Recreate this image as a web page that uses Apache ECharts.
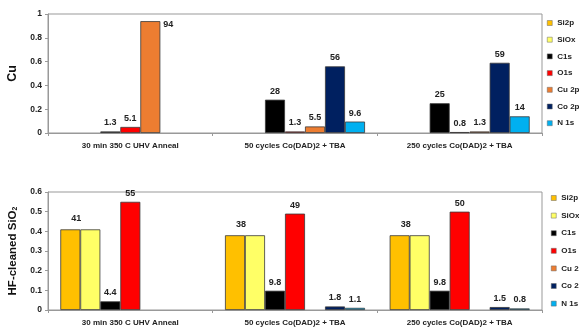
<!DOCTYPE html>
<html>
<head>
<meta charset="utf-8">
<script src="https://cdn.jsdelivr.net/npm/echarts@6/dist/echarts.min.js"></script>
<style>html,body{margin:0;padding:0;background:#fff;}#c{width:579px;height:330px;}</style>
</head>
<body>
<div id="c"></div>
<script>
// ---- data (percent values; bar heights are fractions = percent / 100) ----
const categories = ['30 min 350 C UHV Anneal', '50 cycles Co(DAD)2 + TBA', '250 cycles Co(DAD)2 + TBA'];
const seriesNames = ['Si2p', 'SiOx', 'C1s', 'O1s', 'Cu 2p', 'Co 2p', 'N 1s'];

// Top panel: Cu substrate
const cuSi2p = [null, null, null];
const cuSiOx = [null, null, null];
const cuC1s  = [1.3, 28, 25];
const cuO1s  = [5.1, 1.3, 0.8];
const cuCu2p = [94, 5.5, 1.3];
const cuCo2p = [null, 56, 59];
const cuN1s  = [null, 9.6, 14];

// Bottom panel: HF-cleaned SiO2
const siSi2p = [41, 38, 38];
const siSiOx = [41, 38, 38];
const siC1s  = [4.4, 9.8, 9.8];
const siO1s  = [55, 49, 50];
const siCu2p = [null, null, null];
const siCo2p = [null, 1.8, 1.5];
const siN1s  = [null, 1.1, 0.8];

const topYTicks = [0, 0.2, 0.4, 0.6, 0.8, 1];
const botYTicks = [0, 0.1, 0.2, 0.3, 0.4, 0.5, 0.6];

// ---- styles ----
const colors = ['#FFC000', '#FFFF66', '#000000', '#FF0000', '#ED7D31', '#002060', '#00B0F0'];
const FONT = '"Liberation Sans", Arial, sans-serif';
const topData = [cuSi2p, cuSiOx, cuC1s, cuO1s, cuCu2p, cuCo2p, cuN1s];
const botData = [siSi2p, siSiOx, siC1s, siO1s, siCu2p, siCo2p, siN1s];

function fmt(v) { return String(+(v * 100).toFixed(1)); }

function makeSeries(arrs, gridIdx) {
  return arrs.map((arr, si) => {
    const data = arr.map((p, ci) => {
      if (p === null) return '-';
      const item = { value: p / 100 };
      if (gridIdx === 0 && si === 4 && ci === 0) {
        item.label = { position: ['100%', 0], align: 'left', verticalAlign: 'middle', offset: [3, 3] };
      }
      if (gridIdx === 1 && si === 0) {
        item.label = { offset: [6, -2] };
      }
      if (gridIdx === 1 && si === 1) {
        item.label = { show: false };
      }
      return item;
    });
    return {
      name: seriesNames[si],
      type: 'bar',
      xAxisIndex: gridIdx,
      yAxisIndex: gridIdx,
      barWidth: 20,
      barGap: '0%',
      data: data,
      itemStyle: { color: colors[si], borderColor: '#3a3a3a', borderWidth: 0.8 },
      label: {
        show: true, position: 'top', distance: 4,
        fontFamily: FONT, fontWeight: 'bold', fontSize: 9, color: '#222',
        formatter: p => fmt(p.value)
      },
      emphasis: { disabled: true },
      animation: false
    };
  });
}

function yAxis(gridIdx, ticks, name, nameGap, rich) {
  return {
    type: 'value', gridIndex: gridIdx,
    min: ticks[0], max: ticks[ticks.length - 1], interval: ticks[1] - ticks[0],
    name: name, nameLocation: 'middle', nameGap: nameGap, nameRotate: 90,
    nameTextStyle: Object.assign({ fontFamily: FONT, fontWeight: 'bold', fontSize: 12.5, color: '#111' }, rich ? { rich: rich } : {}),
    axisLine: { show: true, lineStyle: { color: '#999', width: 1 } },
    axisTick: { show: true, length: 3, lineStyle: { color: '#999' } },
    splitLine: { show: false },
    axisLabel: { fontFamily: FONT, fontWeight: 'bold', fontSize: 8.5, color: '#222', margin: 6 }
  };
}

function xAxis(gridIdx) {
  return {
    type: 'category', gridIndex: gridIdx, data: categories,
    axisLine: { show: true, lineStyle: { color: '#999', width: 1 } },
    axisTick: { show: true, length: 3, alignWithLabel: false, lineStyle: { color: '#999' } },
    axisLabel: { fontFamily: FONT, fontWeight: 'bold', fontSize: 8, color: '#222', margin: 9, interval: 0 }
  };
}

const legendText = { fontFamily: FONT, fontWeight: 'bold', fontSize: 8, color: '#222', lineHeight: 10 };
const legendItem = { borderColor: '#666', borderWidth: 0.5 };

const option = {
  backgroundColor: '#fff',
  animation: false,
  grid: [
    { left: 48, top: 14, width: 494, height: 119, show: true, borderColor: '#999', borderWidth: 1, backgroundColor: 'transparent', outerBoundsMode: 'none', containLabel: false },
    { left: 48, top: 192, width: 494, height: 118, show: true, borderColor: '#999', borderWidth: 1, backgroundColor: 'transparent', outerBoundsMode: 'none', containLabel: false }
  ],
  xAxis: [xAxis(0), xAxis(1)],
  yAxis: [
    yAxis(0, topYTicks, 'Cu', 27),
    yAxis(1, botYTicks, '{a|HF-cleaned SiO}{b|2}', 29, {
      a: { fontFamily: FONT, fontWeight: 'bold', fontSize: 11.5, color: '#111' },
      b: { fontFamily: FONT, fontWeight: 'bold', fontSize: 7, color: '#111', verticalAlign: 'bottom', padding: [6, 0, 0, 0] }
    })
  ],
  legend: [
    { orient: 'vertical', left: 547, top: 18, itemWidth: 5, itemHeight: 5, itemGap: 6.7, icon: 'rect',
      data: seriesNames, textStyle: legendText, itemStyle: legendItem, selectedMode: false, padding: 0 },
    { orient: 'vertical', left: 551, top: 193, itemWidth: 5, itemHeight: 5, itemGap: 7.6, icon: 'rect',
      data: seriesNames, textStyle: legendText, itemStyle: legendItem, selectedMode: false, padding: 0 }
  ],
  series: makeSeries(topData, 0).concat(makeSeries(botData, 1))
};

const chart = echarts.init(document.getElementById('c'), null, { renderer: 'canvas' });
chart.setOption(option);
</script>
</body>
</html>
